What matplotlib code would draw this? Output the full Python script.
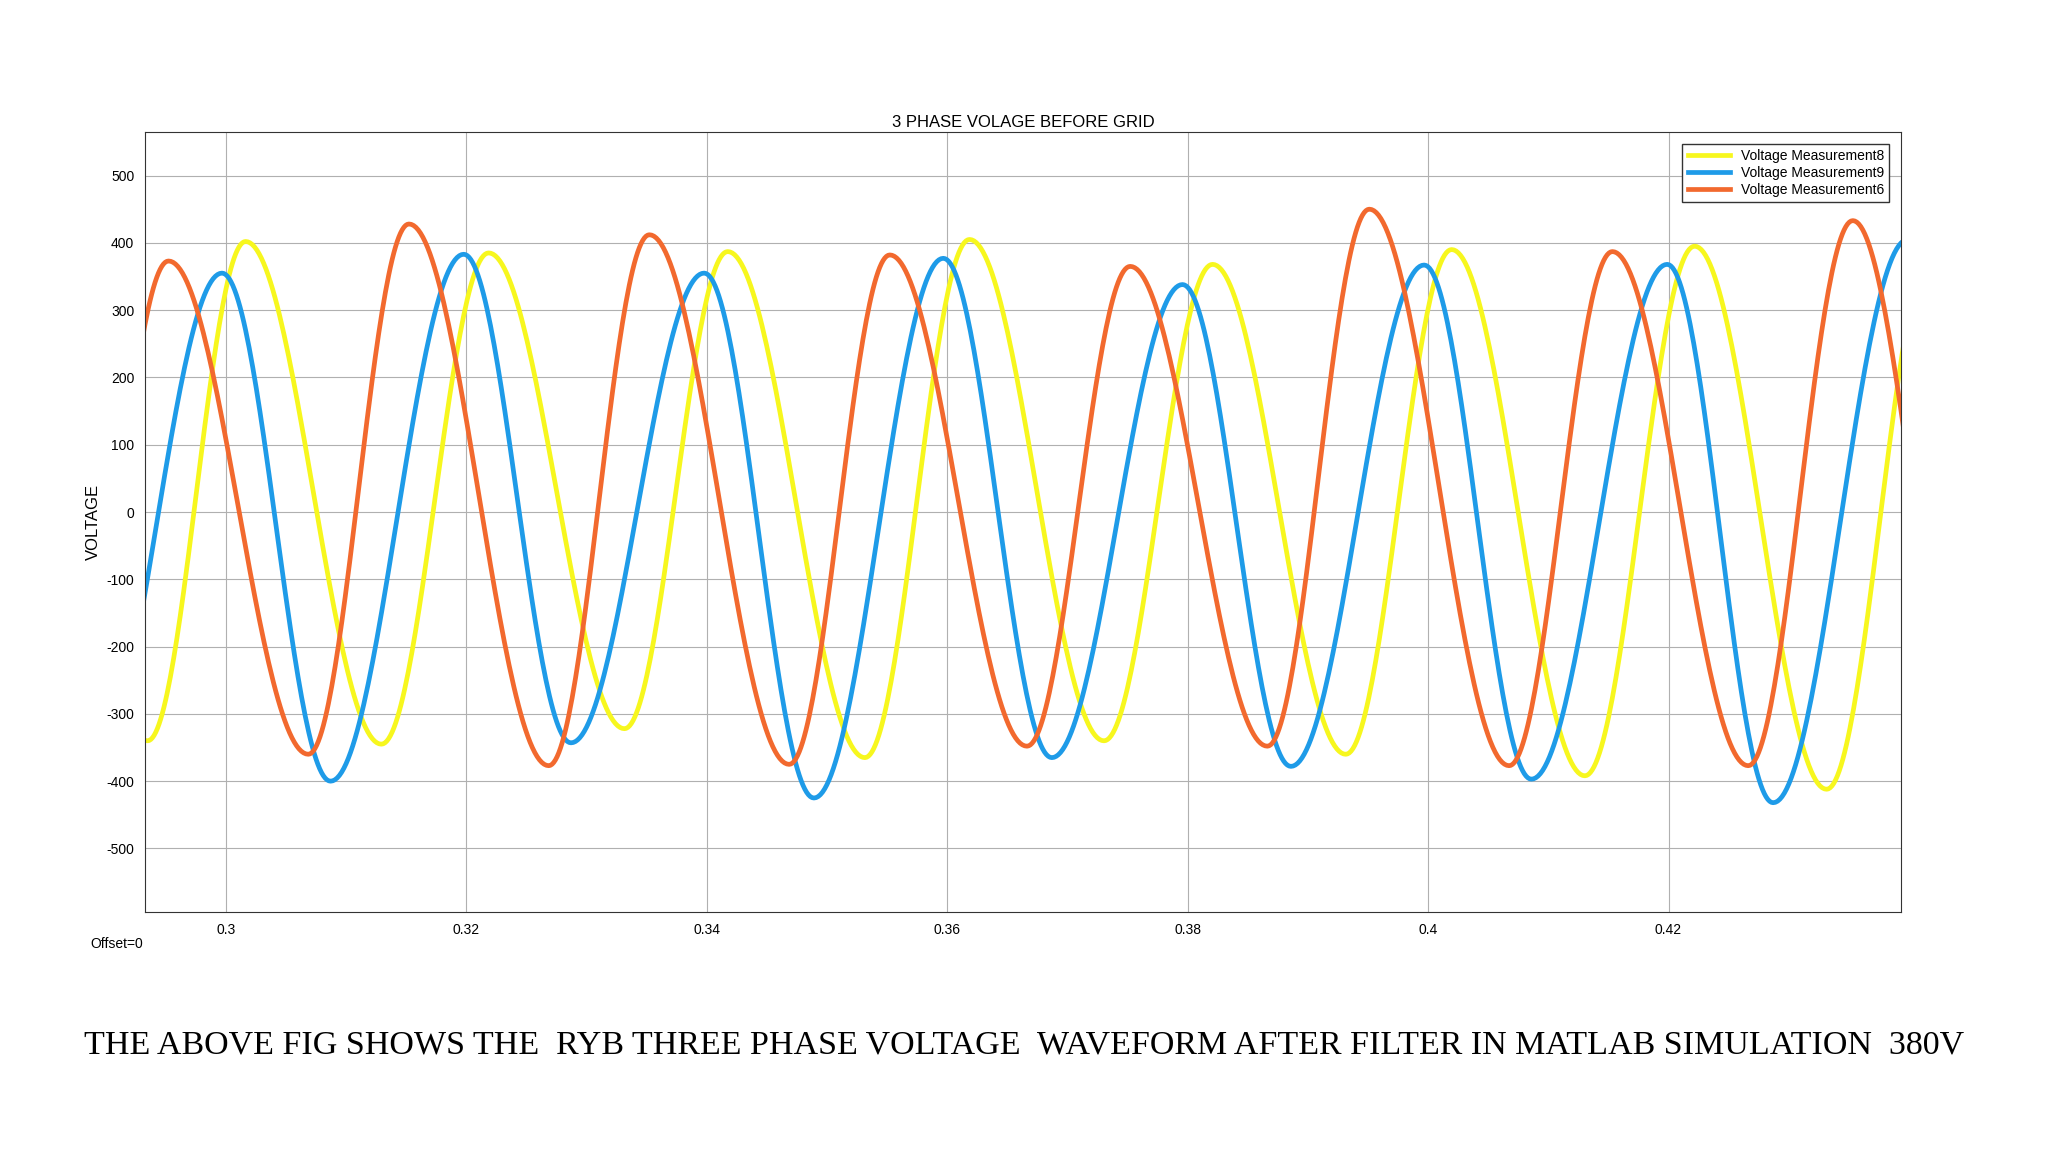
import numpy as np
import matplotlib.pyplot as plt

plt.rcParams['font.family'] = ['Liberation Sans', 'DejaVu Sans']
plt.rcParams['axes.unicode_minus'] = False

# extrema (time, voltage), one list per phase
t_y = [0.2818, 0.29348, 0.30163, 0.31293, 0.32185, 0.33315, 0.34174, 0.35315, 0.36185,
       0.37304, 0.38207, 0.39315, 0.40196, 0.41304, 0.42217, 0.43315, 0.4421]
v_y = [400, -340, 402, -345, 385, -322, 387, -365, 405, -340, 368, -360, 390, -392, 395, -412, 400]

t_b = [0.2887, 0.29967, 0.30870, 0.31978, 0.32870, 0.33978, 0.34891, 0.35967, 0.36870,
       0.37957, 0.38859, 0.39967, 0.40859, 0.41989, 0.42870, 0.4399]
v_b = [-400, 355, -400, 383, -343, 355, -425, 377, -365, 338, -378, 367, -397, 368, -432, 405]

t_o = [0.28685, 0.29522, 0.30685, 0.31522, 0.32685, 0.33522, 0.34685, 0.35522, 0.36663,
       0.37522, 0.38663, 0.39511, 0.40674, 0.41533, 0.42663, 0.43533, 0.4453]
v_o = [-360, 373, -360, 428, -377, 412, -375, 382, -348, 365, -348, 450, -377, 387, -377, 433, -377]

labels = ["Voltage Measurement8", "Voltage Measurement9", "Voltage Measurement6"]
colors = ["#F7F71E", "#1E9BE8", "#F2692E"]


def wave(ts, vs, n=60):
    # half-cosine segments joining successive extrema
    xs, ys = [], []
    for i in range(len(ts) - 1):
        s = np.linspace(0, 1, n, endpoint=False)
        xs.append(ts[i] + (ts[i + 1] - ts[i]) * s)
        ys.append(vs[i] + (vs[i + 1] - vs[i]) * (1 - np.cos(np.pi * s)) / 2)
    return np.concatenate(xs), np.concatenate(ys)


fig = plt.figure(figsize=(20.48, 11.52), dpi=100)
ax = fig.add_axes([0.071, 0.208, 0.857, 0.677])

for (ts, vs), lab, c in zip([(t_y, v_y), (t_b, v_b), (t_o, v_o)], labels, colors):
    x, y = wave(ts, vs)
    ax.plot(x, y, color=c, lw=3.4, label=lab)

ax.set_xlim(0.2933, 0.4393)
ax.set_ylim(-595, 564)
ax.set_xticks([0.3, 0.32, 0.34, 0.36, 0.38, 0.4, 0.42])
ax.set_xticklabels(["0.3", "0.32", "0.34", "0.36", "0.38", "0.4", "0.42"])
ax.set_yticks(range(-500, 501, 100))
ax.tick_params(labelsize=10, length=0, pad=8)
ax.grid(True, color="#b0b0b0", lw=0.8)
for sp in ax.spines.values():
    sp.set_color("#333333")
ax.set_ylabel("VOLTAGE", fontsize=12)
ax.set_title("3 PHASE VOLAGE BEFORE GRID", fontsize=12, pad=4)
leg = ax.legend(loc="upper right", fontsize=10, fancybox=False, framealpha=1,
                edgecolor="#333333", handlelength=3, borderaxespad=0.8, labelspacing=0.2)
fig.text(0.044, 0.177, "Offset=0", fontsize=10)
fig.text(0.5, 0.093, "THE ABOVE FIG SHOWS THE  RYB THREE PHASE VOLTAGE  WAVEFORM AFTER FILTER IN MATLAB SIMULATION  380V",
         ha="center", va="center", fontsize=24.5, family="Liberation Serif")

plt.savefig("out.png", dpi=100)
